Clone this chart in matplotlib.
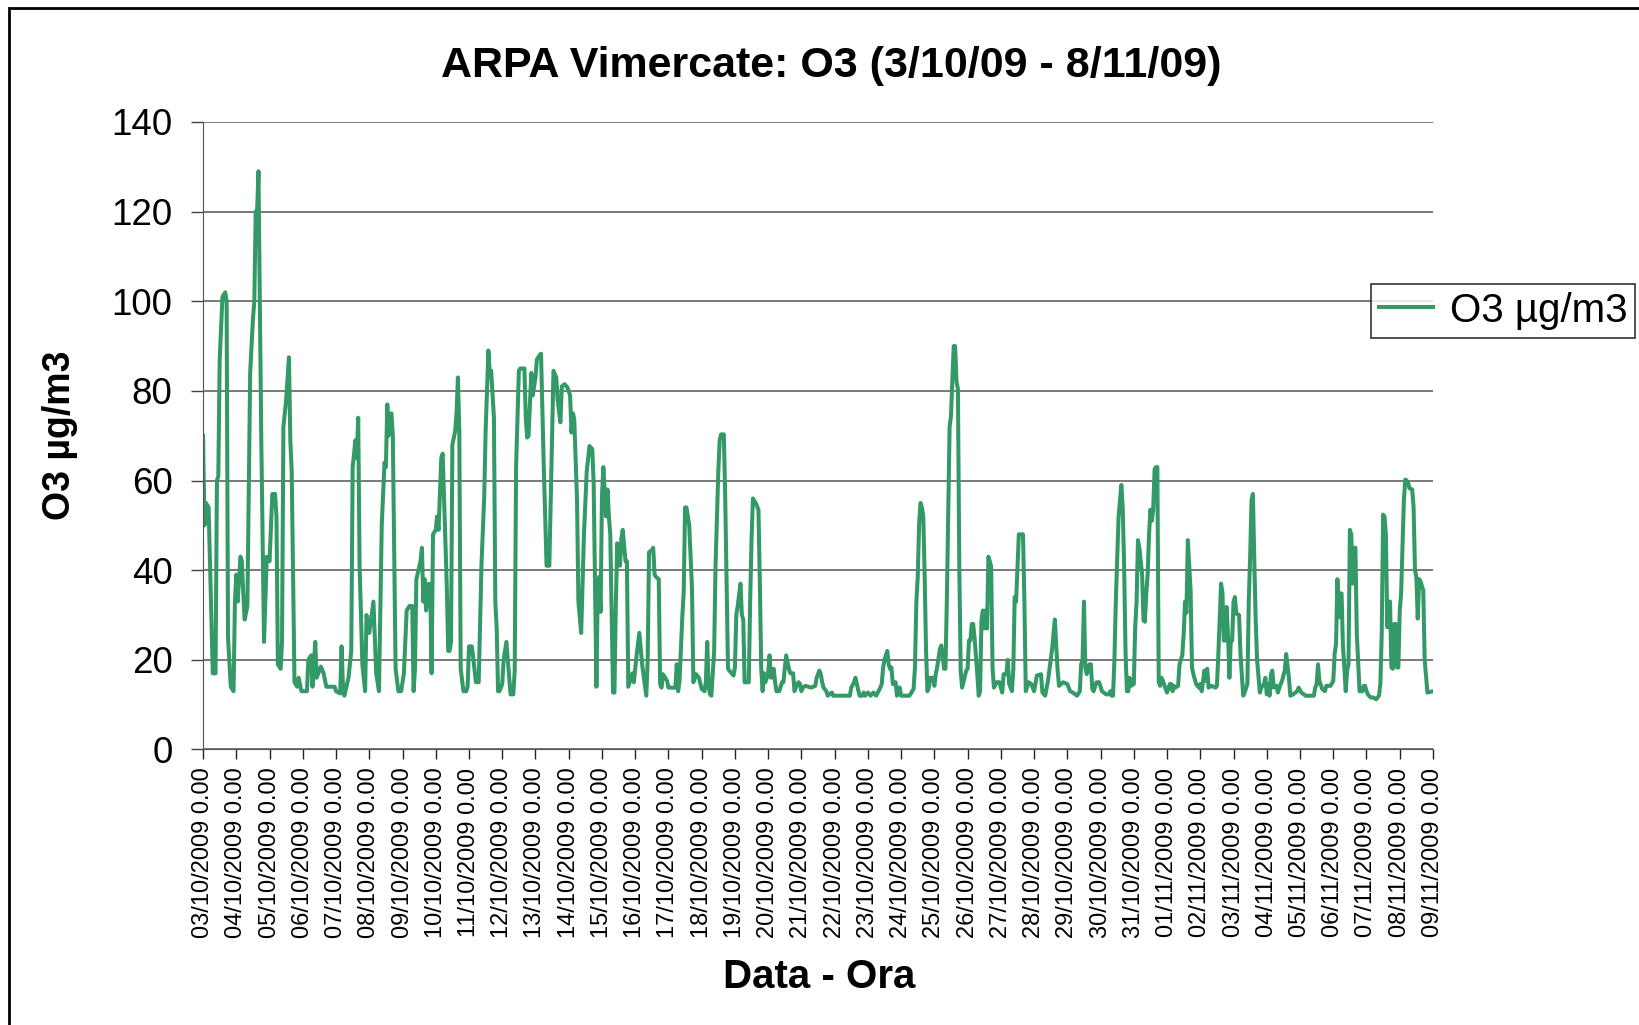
import matplotlib
matplotlib.use("Agg")
import matplotlib.pyplot as plt
import pandas as pd
from matplotlib.patches import Rectangle

# hours after 03/10/2009 0.00, and O3 readings (µg/m3)
hours = [
    0, 1, 2, 4, 7, 9, 10, 11, 12, 14, 16, 17, 18, 20, 22, 23, 24, 25, 27, 28,
    29, 30, 32, 34, 36, 37, 38, 39, 40, 42, 44, 46, 48, 50, 52, 53, 54, 56, 57, 58,
    60, 62, 63, 64, 66, 68, 69, 71, 75, 76, 78, 79, 81, 82, 85, 87, 89, 95, 96, 99,
    100, 101, 102, 105, 107, 108, 110, 111, 112, 113, 115, 117, 118, 120, 123, 124, 125, 127, 129, 131,
    132, 133, 134, 136, 137, 139, 141, 143, 145, 147, 149, 151, 152, 153, 154, 157, 158, 159, 160, 161,
    163, 164, 165, 166, 168, 169, 170, 172, 173, 174, 176, 177, 178, 179, 180, 182, 183, 184, 185, 186,
    188, 190, 191, 192, 194, 195, 197, 199, 201, 203, 204, 206, 207, 208, 210, 211, 212, 213, 214, 216,
    217, 219, 220, 222, 224, 225, 226, 228, 229, 232, 233, 234, 235, 237, 238, 240, 241, 243, 244, 246,
    248, 250, 252, 253, 255, 256, 258, 259, 261, 263, 265, 266, 267, 268, 270, 271, 273, 275, 277, 279,
    281, 282, 283, 284, 285, 286, 287, 288, 289, 291, 292, 293, 294, 296, 297, 298, 299, 301, 302, 303,
    305, 306, 307, 308, 310, 311, 313, 315, 317, 320, 321, 322, 324, 325, 326, 327, 329, 330, 331, 332,
    335, 336, 338, 341, 342, 343, 344, 346, 347, 348, 349, 350, 351, 353, 354, 356, 358, 360, 362, 363,
    364, 365, 366, 367, 369, 370, 372, 373, 374, 376, 377, 379, 380, 383, 384, 385, 386, 388, 389, 390,
    391, 394, 395, 396, 397, 399, 401, 402, 403, 404, 405, 406, 408, 409, 410, 412, 413, 414, 416, 418,
    419, 421, 423, 424, 426, 427, 429, 430, 431, 432, 433, 435, 439, 442, 443, 445, 446, 447, 448, 450,
    451, 454, 455, 467, 468, 470, 471, 472, 474, 476, 477, 478, 480, 482, 484, 486, 489, 490, 491, 492,
    494, 495, 496, 497, 498, 500, 501, 502, 503, 504, 510, 513, 514, 515, 516, 517, 518, 519, 520, 521,
    522, 523, 524, 525, 527, 528, 529, 530, 532, 533, 534, 535, 536, 537, 538, 539, 540, 541, 542, 543,
    544, 545, 546, 547, 548, 549, 551, 552, 553, 554, 555, 556, 557, 559, 560, 561, 562, 563, 564, 565,
    566, 567, 568, 569, 570, 571, 573, 575, 576, 577, 578, 580, 581, 582, 584, 585, 586, 587, 589, 592,
    593, 594, 596, 598, 600, 602, 605, 606, 608, 610, 611, 613, 615, 616, 617, 618, 621, 624, 626, 628,
    631, 633, 634, 635, 636, 637, 638, 640, 641, 642, 643, 645, 647, 649, 652, 654, 655, 656, 657, 658,
    659, 661, 663, 664, 665, 666, 667, 668, 669, 670, 672, 673, 674, 675, 676, 678, 679, 680, 681, 682,
    683, 684, 685, 686, 687, 688, 689, 690, 691, 692, 693, 695, 696, 698, 699, 700, 701, 702, 704, 705,
    707, 708, 709, 710, 711, 713, 714, 715, 717, 719, 720, 721, 723, 724, 725, 726, 728, 731, 732, 733,
    734, 735, 736, 737, 738, 739, 740, 741, 742, 743, 744, 745, 746, 748, 749, 751, 752, 754, 755, 756,
    757, 758, 759, 760, 761, 763, 764, 766, 767, 768, 769, 770, 771, 772, 773, 775, 776, 778, 779, 781,
    782, 784, 785, 787, 790, 791, 793, 796, 802, 803, 804, 805, 806, 808, 810, 811, 814, 816, 817, 818,
    819, 820, 821, 822, 823, 824, 825, 826, 827, 828, 829, 830, 831, 832, 833, 835, 837, 838, 839, 840,
    841, 843, 845, 847, 849, 850, 851, 852, 853, 854, 855, 856, 857, 858, 859, 860, 861, 862, 863, 864,
    865, 867, 868, 869, 870, 871, 873, 874, 875, 876, 877, 878, 879, 881, 882, 884, 888,
]
o3 = [
    70, 50, 55, 54, 17, 17, 60, 61, 87, 101, 102, 100, 25, 14, 13, 33, 39, 33, 43, 42,
    35, 29, 32, 84, 96, 100, 120, 120, 129, 70, 24, 43, 42, 57, 57, 52, 19, 18, 24, 72,
    78, 87.5, 69, 62, 15, 14, 16, 13, 13, 20, 21, 14, 24, 16, 18.5, 17, 14, 14, 13, 12.5,
    23, 14, 12, 16, 22, 63, 69, 65, 74, 41, 19, 13, 30, 26, 33, 25, 17, 13, 50, 64,
    63, 77, 70, 75, 70, 18, 13, 13, 17, 31, 32, 32, 13, 18, 38, 42, 45, 33, 38, 31,
    37, 36, 17, 48, 49, 52, 49, 65, 66, 56, 36, 22, 22, 24, 68, 71, 75, 83, 71, 18,
    13, 13, 14, 23, 23, 20.6, 15, 15, 41, 56.5, 71, 89, 84, 84.5, 74, 33, 27, 13, 13, 14.6,
    20, 24, 20, 12.3, 12.3, 17.6, 63, 84.5, 85, 85, 74, 69.6, 70, 84, 79, 83, 87, 88, 88.3, 63,
    41, 41, 70.7, 84.5, 83, 78, 73, 81, 81.5, 80.8, 79, 70.7, 75, 73.7, 55.7, 33, 26, 48, 62, 67.7,
    67, 59.5, 37, 14, 37, 38.5, 30.7, 56.5, 63, 52, 58, 52, 48, 12.7, 12.7, 32, 46, 41, 47, 49,
    42, 42, 14, 15, 17, 15, 21, 26, 19, 12, 20, 44, 44.5, 45, 39, 38.5, 38, 14.6, 13.8, 16.8,
    15.3, 13.8, 13.8, 13.8, 19, 13, 15.3, 29.5, 35, 54, 54, 52, 50, 36, 15, 16.8, 16, 13.5, 13, 15,
    24, 14, 12.3, 12, 22, 41, 62, 69, 70.3, 70.3, 56, 18, 17.6, 16.5, 18.3, 30, 32, 37, 30, 29,
    15, 15, 33, 47, 56, 55, 53.5, 37, 18, 13, 17, 15, 17, 21, 16, 18, 15, 13, 13, 15,
    15, 21, 18, 17, 17, 13, 14.6, 15, 14.6, 13, 13.8, 14.2, 13.8, 14.2, 16, 17.6, 16.8, 15, 13.8, 13,
    12, 12.7, 12, 12, 13.8, 15, 16, 14.6, 12, 12, 12.7, 12, 12.7, 12, 12.7, 12, 13.8, 14.6, 18.3, 20,
    22, 19, 18, 18.3, 14.6, 15, 12, 13.8, 13.8, 12, 12, 13.5, 18.3, 33, 38.5, 50.5, 55, 54, 52, 38.5,
    22, 13, 13.8, 16, 16, 14.2, 16.8, 18.3, 22.4, 23.2, 21, 18, 18, 33, 52, 72, 74.4, 82.6, 90, 90,
    82, 80.4, 40.8, 17.6, 13.8, 15, 17.6, 18, 24.3, 24.3, 28, 28, 25, 16.8, 12, 13, 28.8, 31, 27, 31,
    27, 43, 42, 40.8, 18.3, 13.8, 15, 15, 13.8, 12.7, 16.8, 16.8, 20, 14.6, 13, 18, 34, 33, 48, 48,
    33, 13, 15, 14.6, 13, 16.5, 16.8, 12.7, 12, 15.3, 17.6, 22.4, 29, 23, 17.6, 14.2, 15, 14.6, 13, 12.7,
    12, 13, 19, 20, 33, 18.3, 16.8, 19, 19, 13.5, 13, 15, 15, 13, 12.3, 12.3, 13, 12, 12, 20,
    33, 52, 59, 54, 41, 22, 13, 13, 16, 14.2, 14.6, 27.3, 33, 46.7, 45, 39, 28.8, 28.5, 34.8, 39,
    48, 53.5, 51, 53.5, 62.5, 63, 63, 15, 14.2, 16, 15.3, 13.5, 12.7, 14.6, 14.6, 13, 14.2, 13.8, 14.2, 19,
    21, 25.8, 33, 30.5, 46.7, 35.5, 18.3, 16.8, 14.6, 13.8, 14.6, 13, 17.6, 15.3, 18, 13.8, 14.2, 13.8, 14.2, 21,
    28.8, 37, 35, 24.3, 24.3, 31.8, 25.8, 16, 24.3, 24.3, 33, 34, 30.3, 30, 21.3, 12, 12.7, 14.6, 33, 43,
    55.7, 57, 42, 28.8, 20, 12.7, 13.8, 14.6, 16, 12.3, 14.6, 12, 16.8, 17.6, 13.8, 14.2, 12.7, 14.6, 15.3, 17.6,
    21.3, 16, 12, 12.3, 13, 13.8, 12.7, 12, 12, 13.8, 14.6, 19, 15.3, 13.5, 13, 14.2, 14.2, 15.3, 21.3, 23.6,
    38, 29.5, 34.8, 34.8, 23, 18.3, 13, 17.6, 19, 49, 48, 37, 45, 45, 25.8, 13, 13, 14.2, 14.2, 13,
    12.3, 11.6, 11.6, 11.2, 12, 14.6, 25.8, 52.4, 52, 48, 27.3, 33, 33, 18.3, 18, 28, 28, 18.3, 18.3, 31,
    34.8, 55.7, 60.2, 60, 59.5, 58.3, 58, 54, 40, 38.5, 29.2, 38, 37.5, 35.5, 20, 12.7, 13,
]

start = pd.Timestamp("2009-10-03")
n_days = 37
day_labels = [(start + pd.Timedelta(days=d)).strftime("%d/%m/%Y") + " 0.00"
              for d in range(n_days + 1)]

plt.rcParams["font.family"] = ["Liberation Sans", "DejaVu Sans"]

fig = plt.figure(figsize=(16.39, 10.25), dpi=100)
ax = fig.add_axes([0.1239, 0.2688, 0.7504, 0.6122])

ax.plot(hours, o3, color="#339966", lw=2.9, label="O3 µg/m3", solid_joinstyle="round")

ax.set_xlim(0, n_days * 24)
ax.set_ylim(0, 140)
ax.set_yticks(range(0, 141, 20))
ax.tick_params(axis="y", labelsize=26.5, length=9, width=1, pad=13, color="#444444")
ax.set_xticks([d * 24 for d in range(n_days + 1)])
ax.set_xticklabels(day_labels, rotation=90, fontsize=17)
ax.tick_params(axis="x", length=7, width=1, pad=6, color="#222222")
ax.grid(axis="y", color="#555555", lw=1.1)
ax.set_axisbelow(True)
for s in ("top", "right"):
    ax.spines[s].set_visible(False)
ax.spines["left"].set_color("#555555")
ax.spines["bottom"].set_color("#555555")

fig.text(0.507, 0.9356, "ARPA Vimercate: O3 (3/10/09 - 8/11/09)", fontsize=31,
         fontweight="bold", ha="center", va="center")
ax.set_ylabel("O3 µg/m3", fontsize=27, fontweight="bold")
ax.yaxis.set_label_coords(-0.1166, 0.5)
ax.set_xlabel("Data - Ora", fontsize=29, fontweight="bold")
ax.xaxis.set_label_coords(0.501, -0.3625)
ax.xaxis.label.set_va("center")
ax.yaxis.label.set_va("center")

leg = fig.legend(loc="upper left", bbox_to_anchor=(0.8365, 0.7234), fontsize=29,
                 frameon=True, fancybox=False, edgecolor="black", handlelength=1.35,
                 borderpad=0.2, handletextpad=0.4, borderaxespad=0)
leg.get_frame().set_linewidth(1.2)

fig.patches.append(Rectangle((9 / 1639, -0.1), 1.2, 1.1 - 8 / 1025, transform=fig.transFigure,
                             fill=False, edgecolor="black", lw=2))

fig.savefig("out.png", dpi=100)
